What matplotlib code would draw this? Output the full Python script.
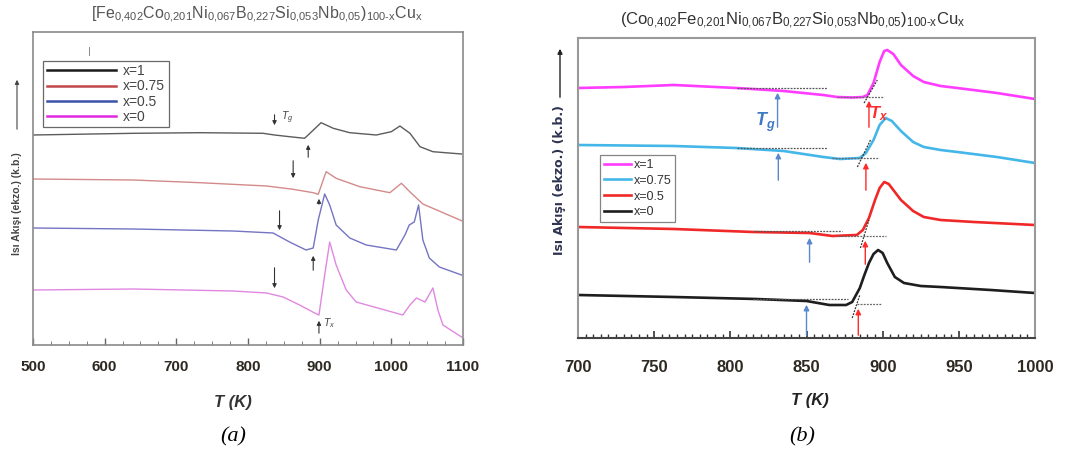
import matplotlib
matplotlib.use('Agg')
import matplotlib.pyplot as plt
from matplotlib.ticker import MultipleLocator

plt.rcParams['font.family'] = ['Liberation Sans', 'DejaVu Sans']
plt.rcParams['mathtext.fontset'] = 'custom'
plt.rcParams['mathtext.rm'] = 'Liberation Sans'
plt.rcParams['mathtext.it'] = 'Liberation Sans:italic'
plt.rcParams['mathtext.bf'] = 'Liberation Sans:bold'
plt.rcParams['mathtext.bfit'] = 'Liberation Sans:italic:bold'
plt.rcParams['mathtext.default'] = 'regular'

W, H = 1077, 455

# ---------------- panel (a) : T (K) vs heat flow (arb. units) ----------------
a_labels = ['x=1', 'x=0.75', 'x=0.5', 'x=0']
a_T_x1 = [500, 640, 733, 821, 837, 858, 879, 902, 919, 942, 979, 1000, 1012, 1026, 1040, 1058, 1098]
a_h_x1 = [210, 211.7, 212.3, 211.7, 210, 208.3, 206.7, 222.3, 216.7, 212.3, 210, 213.3, 219, 211.7, 198.3, 193.3, 191]
a_T_x075 = [500, 640, 733, 826, 863, 891, 898, 909, 923, 956, 998, 1014, 1028, 1044, 1098]
a_h_x075 = [166, 165, 162.3, 159, 155.7, 152.3, 150.7, 173.3, 166.7, 158.3, 152.3, 161.7, 151.7, 141, 124.3]
a_T_x05 = [500, 640, 779, 835, 858, 881, 891, 898, 907, 914, 923, 942, 965, 1007, 1019, 1025, 1032, 1038,
           1044, 1053, 1067, 1098]
a_h_x05 = [117, 116, 114, 112, 103, 95, 97, 125, 151, 140, 120, 107, 100, 95, 110, 120, 123, 140,
           105, 87, 78, 70]
a_T_x0 = [500, 640, 779, 826, 849, 872, 893, 899, 907, 914, 923, 937, 951, 1016, 1026, 1035, 1047, 1058,
          1065, 1072, 1098]
a_h_x0 = [55, 56, 54, 52, 48, 40, 32, 30, 70, 103, 80, 55, 43, 30, 40, 47, 43, 57, 35, 20, 8]
a_curve_col = ['#5c5c5c', '#d48a8a', '#7474c4', '#e088e0']
a_leg_col = ['#1a1a1a', '#c04848', '#3c52a8', '#e028e0']
# Tg / Tx markers: temperature, arrow head, arrow tail
a_tg = [(837, 217, 233), (863, 164, 187), (844, 112, 137), (837, 54, 80)]
a_tx = [(884, 203, 185), (899, 149, 138), (891, 92, 72), (899, 27, 9)]

# ---------------- panel (b) ----------------
b_labels = ['x=1', 'x=0.75', 'x=0.5', 'x=0']
b_T_x1 = [700, 730, 763, 804, 835, 861, 870, 880, 887, 890, 894, 898, 901, 903, 907, 912, 920, 927, 938, 949,
          975, 1000]
b_h_x1 = [250, 251, 253, 250, 247, 243, 241, 240.5, 241, 243, 255, 276, 287, 288, 284, 273, 262, 256, 252, 250,
          245, 239]
b_T_x075 = [700, 763, 804, 835, 861, 872, 885, 889, 894, 898, 902, 906, 912, 920, 927, 938, 949, 975, 1000]
b_h_x075 = [193, 192, 190, 187, 181, 179, 180, 185, 198, 213, 220, 217, 207, 196, 191, 188, 186, 181, 175]
b_T_x05 = [700, 763, 815, 852, 867, 883, 887, 891, 895, 898, 901, 904, 908, 912, 920, 927, 938, 960, 1000]
b_h_x05 = [111, 109, 106, 105, 102, 103, 108, 120, 138, 150, 156, 154, 146, 138, 127, 121, 118, 116, 113]
b_T_x0 = [700, 763, 817, 850, 865, 876, 880, 885, 888, 891, 894, 897, 900, 903, 908, 914, 925, 938, 971, 1000]
b_h_x0 = [43, 41, 39, 37, 33, 33, 36, 50, 63, 75, 84, 88, 85, 75, 61, 55, 52, 51, 48, 45]
b_col = ['#ff3cff', '#45b6e8', '#f02828', '#1e1e1e']
# baseline constructions: (T start, T end, level), tangent ((T0,h0),(T1,h1))
b_base1 = [(804.5, 863.7, 250), (804.5, 863.7, 190), (815.5, 873.5, 107), (815, 877, 39)]
b_base2 = [(870, 901, 241), (867, 897.6, 180), (871, 902, 102.3), (883, 899, 34)]
b_tang = [((887.8, 235), (896.5, 258)), ((883.4, 171), (892, 198)), ((885.4, 90), (891, 118)),
          ((880, 20), (885, 43))]
b_tg = [(831, 248, 208), (831.5, 188, 155), (852, 103, 73), (850, 36, 0)]
b_tx = [(891, 240, 208), (889, 178, 145), (888.6, 100, 71), (884, 32, 0)]


def fx(px):
    return px / W


def fy(py):
    return 1 - py / H


fig = plt.figure(figsize=(W / 100, H / 100), dpi=100)

# ======================= (a) =======================
axa = fig.add_axes([fx(33), fy(345), fx(463) - fx(33), fy(32) - fy(345)])
a_T = [a_T_x1, a_T_x075, a_T_x05, a_T_x0]
a_h = [a_h_x1, a_h_x075, a_h_x05, a_h_x0]
for i in range(4):
    axa.plot(a_T[i], a_h[i], color=a_curve_col[i], lw=1.0)
    axa.plot([], [], color=a_leg_col[i], lw=1.8, label=a_labels[i])
for T, h0, h1 in a_tg + a_tx:
    axa.annotate('', xy=(T, h0), xytext=(T, h1),
                 arrowprops=dict(arrowstyle='-|>', color='#333333', lw=0.8, mutation_scale=6))
axa.text(846, 227, '$\\mathit{T_g}$', fontsize=7.5, color='#444444', va='center')
axa.text(905, 22, '$\\mathit{T_x}$', fontsize=7.5, color='#444444', va='center')
axa.plot([578, 578], [290, 298], color='#888888', lw=0.7)
axa.set_xlim(500, 1100)
axa.set_ylim(0, 313)
axa.xaxis.set_major_locator(MultipleLocator(100))
axa.xaxis.set_minor_locator(MultipleLocator(25))
axa.tick_params(axis='x', which='major', direction='in', length=5, width=1, colors='#666666',
                labelcolor='#2e2a22', labelsize=11, pad=11)
axa.tick_params(axis='x', which='minor', direction='in', length=3, colors='#666666')
axa.set_yticks([])
for lab in axa.get_xticklabels():
    lab.set_fontweight('bold')
for s in axa.spines.values():
    s.set_color('#8a8a8a')
    s.set_linewidth(1.2)
leg = axa.legend(loc='upper left', bbox_to_anchor=(0.008, 0.93), fontsize=10, frameon=True,
                 fancybox=False, edgecolor='#444444', handlelength=5.0, handletextpad=0.5,
                 labelspacing=0.08, borderpad=0.25, labelcolor='#444444')
leg.get_frame().set_linewidth(0.9)

fig.text(fx(257), fy(15),
         '[Fe$_{0{,}402}$Co$_{0{,}201}$Ni$_{0{,}067}$B$_{0{,}227}$Si$_{0{,}053}$Nb$_{0{,}05}$)$_{100\\text{-}x}$Cu$_x$',
         ha='center', va='center', fontsize=11.5, color='#555555')
fig.text(fx(17), fy(204), 'Isı Akışı (ekzo.) (k.b.)', rotation=90, ha='center', va='center',
         fontsize=7.5, fontweight='bold', color='#444444')
fig.add_artist(matplotlib.patches.FancyArrowPatch((fx(17), fy(132)), (fx(17), fy(77)),
               transform=fig.transFigure, arrowstyle='-|>', mutation_scale=6, color='#444444', lw=0.8))
fig.text(fx(233), fy(403), 'T (K)', ha='center', va='center', fontsize=12, fontweight='bold',
         style='italic', color='#333333')
fig.text(fx(233), fy(437), '(a)', ha='center', va='center', fontsize=16, style='italic',
         family='Liberation Serif')

# ======================= (b) =======================
axb = fig.add_axes([fx(578), fy(338), fx(1035) - fx(578), fy(38) - fy(338)])
b_T = [b_T_x1, b_T_x075, b_T_x05, b_T_x0]
b_h = [b_h_x1, b_h_x075, b_h_x05, b_h_x0]
for i in range(4):
    axb.plot(b_T[i], b_h[i], color=b_col[i], lw=1.9, label=b_labels[i])
for i in range(4):
    t0, t1, lv = b_base1[i]
    axb.plot([t0, t1], [lv, lv], color='#555555', lw=0.9, ls=(0, (1.5, 1)))
    t0, t1, lv = b_base2[i]
    axb.plot([t0, t1], [lv, lv], color='#666666', lw=0.9, ls=(0, (1.5, 1)))
    (p0, q0), (p1, q1) = b_tang[i]
    axb.plot([p0, p1], [q0, q1], color='#333333', lw=0.9, ls=(0, (1.5, 1)))
for T, h0, h1 in b_tg:
    axb.annotate('', xy=(T, h0), xytext=(T, h1),
                 arrowprops=dict(arrowstyle='-|>', color='#5a88cc', lw=1.0, mutation_scale=8))
for T, h0, h1 in b_tx:
    axb.annotate('', xy=(T, h0), xytext=(T, h1),
                 arrowprops=dict(arrowstyle='-|>', color='#ff2a2a', lw=1.0, mutation_scale=8))
axb.text(823, 216, '$\\mathbfit{T_g}$', fontsize=13, color='#3f78c4', ha='center', va='center')
axb.text(897, 224, '$\\mathbfit{T_x}$', fontsize=12, color='#ff2a2a', ha='center', va='center')
axb.set_xlim(700, 1000)
axb.set_ylim(0, 300)
axb.xaxis.set_major_locator(MultipleLocator(50))
axb.xaxis.set_minor_locator(MultipleLocator(5))
axb.tick_params(axis='x', which='major', direction='in', length=5, width=1.2, colors='#333333',
                labelcolor='#2e2a22', labelsize=12, pad=16)
axb.tick_params(axis='x', which='minor', direction='in', length=3, width=1, colors='#333333')
axb.set_yticks([])
for lab in axb.get_xticklabels():
    lab.set_fontweight('bold')
for s in axb.spines.values():
    s.set_color('#999999')
    s.set_linewidth(1.5)
axb.spines['bottom'].set_color('#444444')
legb = axb.legend(loc='upper left', bbox_to_anchor=(0.035, 0.63), fontsize=9, frameon=True,
                  fancybox=False, edgecolor='#666666', handlelength=2.2, handletextpad=0.15,
                  labelspacing=0.3, borderpad=0.3, labelcolor='#333333')
legb.get_frame().set_linewidth(0.9)

fig.text(fx(793), fy(21),
         '(Co$_{0{,}402}$Fe$_{0{,}201}$Ni$_{0{,}067}$B$_{0{,}227}$Si$_{0{,}053}$Nb$_{0{,}05}$)$_{100\\text{-}x}$Cu$_x$',
         ha='center', va='center', fontsize=12, color='#333333')
fig.text(fx(560), fy(180), 'Isı Akışı (ekzo.) (k.b.)', rotation=90, ha='center', va='center',
         fontsize=9, fontweight='bold', color='#2e3350', family='DejaVu Sans')
fig.add_artist(matplotlib.patches.FancyArrowPatch((fx(560), fy(100)), (fx(560), fy(46)),
               transform=fig.transFigure, arrowstyle='-|>', mutation_scale=7, color='#222222', lw=1.0))
fig.text(fx(810), fy(400), 'T (K)', ha='center', va='center', fontsize=12, fontweight='bold',
         style='italic', color='#222222')
fig.text(fx(802), fy(437), '(b)', ha='center', va='center', fontsize=16, style='italic',
         family='Liberation Serif')

fig.savefig('out.png', dpi=100)
